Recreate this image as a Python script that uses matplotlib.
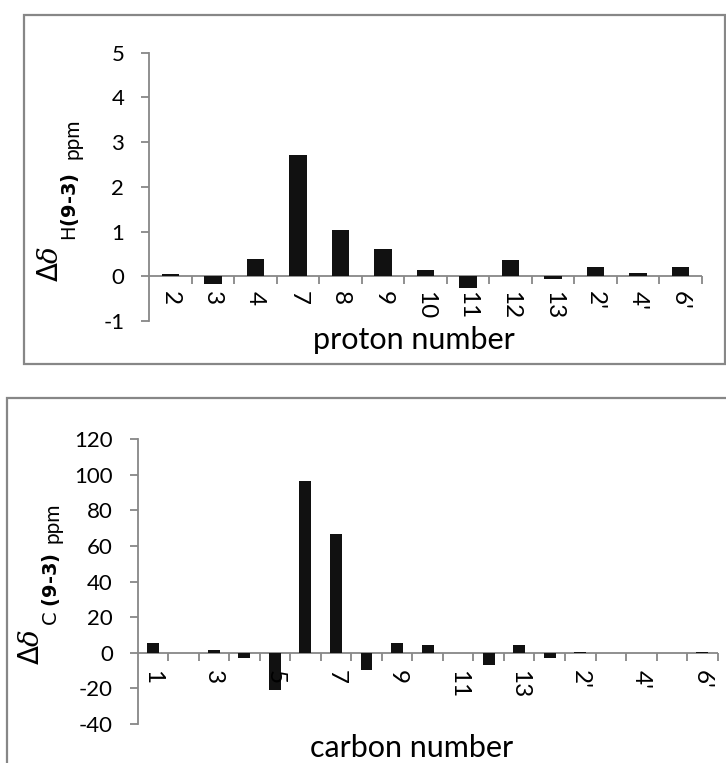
import matplotlib
matplotlib.use("Agg")
import matplotlib.pyplot as plt
from matplotlib.patches import Rectangle
from matplotlib.transforms import offset_copy
import numpy as np

# ---- data ----
proton_labels = ["2", "3", "4", "7", "8", "9", "10", "11", "12", "13", "2'", "4'", "6'"]
proton_values = [0.06, -0.17, 0.38, 2.72, 1.03, 0.61, 0.14, -0.27, 0.36, -0.07, 0.21, 0.08, 0.21]

carbon_labels = ["1", "2", "3", "4", "5", "6", "7", "8", "9", "10", "11", "12", "13",
                 "1'", "2'", "3'", "4'", "5'", "6'"]
carbon_values = [5.2, -0.3, 1.3, -3.0, -21.0, 96.3, 66.7, -9.7, 5.2, 4.3, -0.3, -7.1, 4.5,
                 -3.0, 0.5, 0.0, 0.0, 0.0, 0.5]
carbon_shown = ["1", "3", "5", "7", "9", "11", "13", "2'", "4'", "6'"]

proton_yticks = [-1, 0, 1, 2, 3, 4, 5]
carbon_yticks = [-40, -20, 0, 20, 40, 60, 80, 100, 120]

FONT = "Lato"
GRAY = "#878787"
BAR = "#111111"
W, H = 726, 763

plt.rcParams['font.family'] = [FONT, 'DejaVu Sans']
plt.rcParams['mathtext.fontset'] = 'custom'
plt.rcParams['mathtext.rm'] = 'DejaVu Sans'
plt.rcParams['mathtext.it'] = 'DejaVu Serif:italic'
plt.rcParams['mathtext.bf'] = 'DejaVu Sans:bold'

fig = plt.figure(figsize=(W / 100, H / 100), dpi=100)


def fx(px):
    return px / W


def fy(py):
    return 1 - py / H


def style_axes(ax, n, ylim, yticks):
    x = np.arange(n)
    ax.set_xlim(-0.5, n - 0.5)
    ax.set_ylim(*ylim)
    ax.patch.set_alpha(0)
    for s in ["top", "right", "bottom"]:
        ax.spines[s].set_visible(False)
    ax.spines["left"].set_color(GRAY)
    ax.spines["left"].set_linewidth(1.3)
    ax.axhline(0, color=GRAY, lw=1.3, zorder=1)
    ax.set_yticks(yticks)
    ax.set_yticklabels([str(t) for t in yticks], fontsize=16)
    ax.tick_params(axis="y", length=8 * 0.72, width=1.3, color=GRAY, pad=12)
    ax.set_xticks([])
    bounds = np.arange(0.5, n, 1.0)
    ax.plot(bounds, np.zeros_like(bounds), ls="none", marker=3, ms=8 * 0.72, mew=1.3,
            color=GRAY, clip_on=False)
    return x


def ylabel(xmain, ymain, xsub, ysub, xppm, yppm, sub):
    fig.text(fx(xmain), fy(ymain), r"$\Delta\mathit{\delta}$", rotation=90,
             ha="right", va="center", fontsize=20)
    fig.text(fx(xsub), fy(ysub), sub, rotation=90, ha="center", va="center", fontsize=14)
    fig.text(fx(xppm), fy(yppm), "ppm", rotation=90, ha="center", va="center", fontsize=15)


# ---------- top chart ----------
fig.patches.append(Rectangle((fx(24), fy(364)), fx(724.5) - fx(24), fy(14.5) - fy(364),
                             transform=fig.transFigure, fill=False, ec=GRAY, lw=1.6))
ax1 = fig.add_axes([fx(149), fy(321), fx(702) - fx(149), fy(52.6) - fy(321)])
x1 = style_axes(ax1, len(proton_labels), (-1, 5), proton_yticks)
ax1.bar(x1, proton_values, width=0.41, color=BAR, zorder=2)
tr1 = offset_copy(ax1.transData, fig=fig, y=-15, units="dots")
for xi, lab in zip(x1, proton_labels):
    ax1.text(xi, 0, lab, rotation=270, ha="center", va="top", fontsize=17.5, transform=tr1)
fig.text(fx(414), fy(349), "proton number", ha="center", va="baseline", fontsize=22)
ylabel(63, 264, 70, 207, 72, 138.5, r"$\mathrm{H}\mathbf{(9‐3)}$")

# ---------- bottom chart ----------
fig.patches.append(Rectangle((fx(7), fy(775)), fx(740) - fx(7), fy(398) - fy(775),
                             transform=fig.transFigure, fill=False, ec=GRAY, lw=1.6))
ax2 = fig.add_axes([fx(137.5), fy(724), fx(717.7) - fx(137.5), fy(439) - fy(724)])
x2 = style_axes(ax2, len(carbon_labels), (-40, 120), carbon_yticks)
ax2.bar(x2, carbon_values, width=0.39, color=BAR, zorder=2)
tr2 = offset_copy(ax2.transData, fig=fig, y=-17, units="dots")
for xi, lab in zip(x2, carbon_labels):
    if lab in carbon_shown:
        ax2.text(xi, 0, lab, rotation=270, ha="center", va="top", fontsize=17.5,
                 transform=tr2)
fig.text(fx(412), fy(757), "carbon number", ha="center", va="baseline", fontsize=22)
ylabel(44, 647, 51, 589, 53, 523, r"$\mathrm{C}\ \mathbf{(9‐3)}$")

fig.savefig("out.png", dpi=100)
